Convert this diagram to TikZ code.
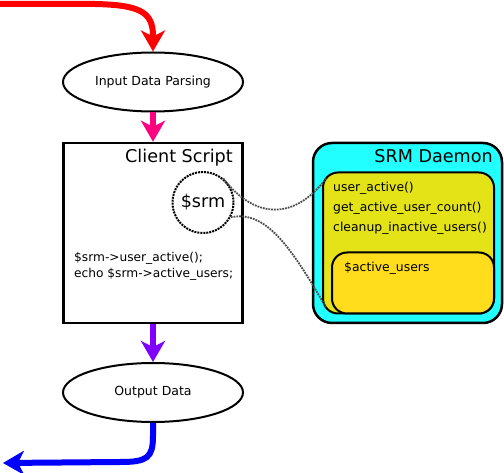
\documentclass[tikz,border=0pt]{standalone}
\usepackage{fontspec}
\setmainfont{DejaVu Sans}
\usetikzlibrary{shapes.geometric,arrows.meta,calc}
\definecolor{flowred}{HTML}{FF0000}
\definecolor{flowpink}{HTML}{FF0080}
\definecolor{flowpurple}{HTML}{8000FF}
\definecolor{flowblue}{HTML}{0000FF}
\definecolor{daemoncyan}{HTML}{22FFFF}
\definecolor{apiyellow}{HTML}{E3E317}
\definecolor{stategold}{HTML}{FFDC1C}
\begin{document}
\begin{tikzpicture}[x=1pt,y=-1pt,
  flow/.style={line width=6pt,-{Stealth[length=21pt,width=24pt,inset=6pt]}},
  oval/.style={ellipse,draw,line width=2pt,minimum width=180pt,minimum height=59pt,
    inner sep=0pt,font=\fontsize{12.5}{15}\selectfont},
  title/.style={inner sep=0pt,font=\fontsize{17.6}{20}\selectfont},
  code/.style={inner sep=0pt,anchor=base west,font=\fontsize{12.2}{14}\selectfont},
  method/.style={code,font=\fontsize{12.4}{14}\selectfont},
  conn/.style={line width=1.8pt,densely dotted,black!70}]
\useasboundingbox (0,0) rectangle (504,473);

% flow nodes on the left
\node[oval] (parse) at (153,82) {Input Data Parsing};
\node[draw,line width=2.5pt,minimum width=179pt,minimum height=180pt,inner sep=0pt]
  (client) at (153,233) {};
\node[title,anchor=base east] (clienttitle) at (233,163) {Client Script};
\node[circle,draw,densely dotted,line width=2pt,minimum size=61pt,inner sep=0pt,
  font=\fontsize{17.6}{20}\selectfont] (srm) at (203,202.5) {\$srm};
\node[code] (call1) at (74,262) {\$srm->user\_active();};
\node[code] (call2) at (74,278) {echo \$srm->active\_users;};
\node[oval] (output) at (153,392.5) {Output Data};

% daemon with its API and its state
\node[draw,line width=2.5pt,fill=daemoncyan,rounded corners=19pt,
  minimum width=189pt,minimum height=180pt,inner sep=0pt] (daemon) at (407.5,233) {};
\node[title,anchor=base east] (daemontitle) at (493,163) {SRM Daemon};
\node[draw,line width=2pt,fill=apiyellow,rounded corners=15pt,
  minimum width=171pt,minimum height=141pt,inner sep=0pt] (api) at (408.5,243) {};
\node[method] (m1) at (333,192) {user\_active()};
\node[method] (m2) at (333,212) {get\_active\_user\_count()};
\node[method] (m3) at (333,232) {cleanup\_inactive\_users()};
\node[draw,line width=2pt,fill=stategold,rounded corners=15pt,
  minimum width=162pt,minimum height=61pt,inner sep=0pt] (state) at (413,283) {};
\node[method] (m4) at (344,272) {\$active\_users};

% links between the object and the daemon
\draw[conn] (srm.50) .. controls (255,220) and (295,220) .. ($(api.north west)+(4,7)$);
\draw[conn] (srm.-28) .. controls (265,210) and (290,245) .. ($(api.south west)+(4,-7)$);

% data flow arrows
\coordinate (flowin) at (0,4);
\coordinate (flowout) at (3,463);
\draw[flow,flowred] (flowin) -- (95,4) .. controls (140,5) and (153,12) .. (153,36) -- (parse.north);
\draw[flow,flowpink] (parse.south) -- (client.north);
\draw[flow,flowpurple] (client.south) -- (output.north);
\draw[flow,flowblue] (output.south) -- (153,436) .. controls (153,458) and (147,462) .. (120,462) -- (flowout);
\end{tikzpicture}
\end{document}
